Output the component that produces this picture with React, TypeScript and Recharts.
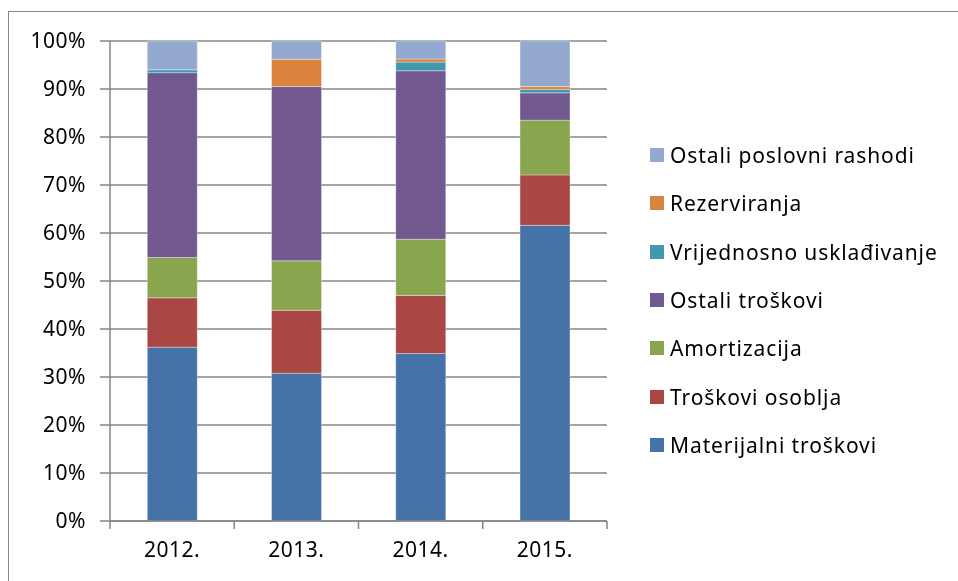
import { BarChart, Bar, XAxis, YAxis, CartesianGrid, Legend } from "recharts";

const years = ["2012.", "2013.", "2014.", "2015."];
const materijalni = [36.2, 30.8, 34.9, 61.6];
const osoblja = [10.3, 13.1, 12.1, 10.5];
const amortizacija = [8.4, 10.3, 11.7, 11.4];
const ostaliTroskovi = [38.5, 36.3, 35.1, 5.7];
const vrijednosno = [0.6, 0, 1.8, 0.7];
const rezerviranja = [0, 5.7, 0.65, 0.6];
const ostaliPoslovni = [6.0, 3.8, 3.75, 9.5];

const percentTicks = [0, 0.1, 0.2, 0.3, 0.4, 0.5, 0.6, 0.7, 0.8, 0.9, 1];

// stacking order, bottom to top
const series = [
  { key: "mat", name: "Materijalni troškovi", color: "#4572A7", values: materijalni },
  { key: "oso", name: "Troškovi osoblja", color: "#AA4643", values: osoblja },
  { key: "amo", name: "Amortizacija", color: "#89A54E", values: amortizacija },
  { key: "ost", name: "Ostali troškovi", color: "#71588F", values: ostaliTroskovi },
  { key: "vri", name: "Vrijednosno usklađivanje", color: "#4198AF", values: vrijednosno },
  { key: "rez", name: "Rezerviranja", color: "#DB843D", values: rezerviranja },
  { key: "opr", name: "Ostali poslovni rashodi", color: "#93A9CF", values: ostaliPoslovni },
];

const data = years.map((year, i) => {
  const row: Record<string, string | number> = { year };
  series.forEach((s) => (row[s.key] = s.values[i]));
  return row;
});

const GRID = "#868686";
const X_TICK_MARGIN = 21;
const X_TICK_LEN = 8;

// category label + tick marks on the band edges (Excel style)
function YearTick(props: any) {
  const { x, y, payload, index, visibleTicksCount } = props;
  const half = payload.offset ?? 0;
  const axisY = y - X_TICK_MARGIN;
  const isLast = index === visibleTicksCount - 1;
  return (
    <g>
      <line x1={x - half} x2={x - half} y1={axisY} y2={axisY + X_TICK_LEN} stroke={GRID} strokeWidth={1.5} />
      {isLast && (
        <line x1={x + half} x2={x + half} y1={axisY} y2={axisY + X_TICK_LEN} stroke={GRID} strokeWidth={1.5} />
      )}
      <text x={x} y={y} dy="0.71em" textAnchor="middle" fill="#000" fontSize={21} letterSpacing={0.5}>
        {payload.value}
      </text>
    </g>
  );
}

function renderLegend() {
  // legend lists the top of the stack first
  const items = [...series].reverse();
  return (
    <ul style={{ listStyle: "none", margin: 0, padding: 0 }}>
      {items.map((s) => (
        <li
          key={s.key}
          style={{
            height: 48.3,
            display: "flex",
            alignItems: "center",
            fontSize: 21,
            letterSpacing: 0.9,
            color: "#000",
          }}
        >
          <span
            style={{ width: 14, height: 14, background: s.color, display: "inline-block", marginRight: 6 }}
          />
          {s.name}
        </li>
      ))}
    </ul>
  );
}

export default function App() {
  return (
    <div style={{ position: "relative", width: 940, height: 560, fontFamily: "'Noto Sans', sans-serif" }}>
      <div
        style={{
          position: "fixed",
          left: 8,
          top: 11,
          width: 960,
          height: 580,
          borderLeft: `1.5px solid ${GRID}`,
          borderTop: `1.5px solid ${GRID}`,
          boxSizing: "border-box",
        }}
      />
      <BarChart
        width={940}
        height={560}
        data={data}
        stackOffset="expand"
        barCategoryGap="30%"
        margin={{ top: 33, right: 341, left: 0, bottom: 0 }}
      >
        <CartesianGrid vertical={false} stroke={GRID} strokeWidth={1.5} />
        <XAxis
          dataKey="year"
          height={47}
          tickLine={false}
          tickSize={0}
          tickMargin={X_TICK_MARGIN}
          axisLine={{ stroke: GRID, strokeWidth: 1.5 }}
          tick={YearTick}
        />
        <YAxis
          width={102}
          domain={[0, 1]}
          ticks={percentTicks}
          interval={0}
          tickFormatter={(v: number) => `${Math.round(v * 100)}%`}
          tickSize={10}
          tickMargin={14}
          axisLine={{ stroke: GRID, strokeWidth: 1.5 }}
          tickLine={{ stroke: GRID, strokeWidth: 1.5 }}
          tick={{ fill: "#000", fontSize: 21, letterSpacing: 0.5 }}
        />
        {series.map((s) => (
          <Bar
            key={s.key}
            dataKey={s.key}
            name={s.name}
            stackId="a"
            fill={s.color}
            stroke="rgba(255,255,255,0.35)"
            strokeWidth={1}
            isAnimationActive={false}
          />
        ))}
        <Legend
          layout="vertical"
          align="center"
          verticalAlign="middle"
          wrapperStyle={{ left: 642, top: 123, width: 310 }}
          content={renderLegend}
        />
      </BarChart>
    </div>
  );
}
